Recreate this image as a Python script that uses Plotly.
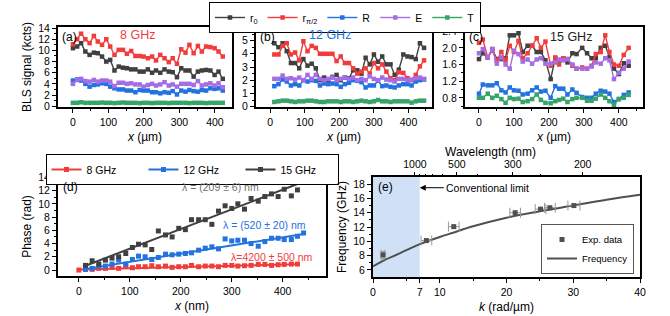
import math
import plotly.graph_objects as go

# ---------------- data: panel (a) 8 GHz ----------------
xa = [0, 12, 23, 35, 47, 59, 70, 82, 94, 105, 117, 129, 141, 152, 164, 176, 188, 199, 211, 223,
      234, 246, 258, 270, 281, 293, 305, 317, 328, 340, 352, 363, 375, 387, 399, 410, 422]
a_r0 = [10.4, 10.7, 11.3, 9.8, 9.2, 9.6, 9.5, 8.9, 8.0, 8.3, 6.4, 7.1, 6.9, 6.8, 6.6, 6.6, 6.2, 6.2, 6.6, 6.0,
        6.4, 6.0, 6.6, 6.2, 6.1, 5.2, 6.8, 6.4, 6.4, 5.3, 6.2, 6.4, 6.5, 6.4, 5.6, 6.2, 4.9]
a_rp = [11.1, 12.0, 13.0, 12.0, 11.3, 12.6, 11.6, 11.0, 12.0, 10.7, 9.2, 10.1, 10.1, 9.4, 9.9, 9.0, 9.0, 8.9, 8.6, 8.9,
        8.2, 9.2, 8.6, 7.9, 8.6, 7.6, 10.2, 9.6, 11.0, 9.5, 10.8, 9.8, 10.7, 10.6, 10.4, 9.8, 8.9]
a_R = [4.6, 4.8, 4.6, 4.0, 3.5, 3.8, 3.9, 4.1, 4.0, 3.5, 3.2, 3.0, 3.0, 2.8, 2.8, 2.5, 2.9, 2.8, 2.8, 2.5,
       2.5, 2.3, 2.5, 2.4, 2.7, 2.1, 2.8, 2.6, 2.9, 2.7, 2.6, 2.9, 2.8, 3.2, 3.1, 3.2, 2.8]
a_E = [4.0, 4.7, 4.9, 4.5, 4.4, 4.7, 4.4, 4.6, 4.6, 4.4, 3.6, 4.2, 4.2, 4.0, 4.1, 3.9, 3.9, 3.5, 3.8, 4.0,
       3.7, 3.9, 4.3, 3.7, 3.9, 3.5, 4.0, 4.0, 4.0, 3.8, 4.5, 3.7, 3.9, 4.1, 3.7, 4.1, 3.4]
a_T = [0.6, 0.6, 0.7, 0.6, 0.6, 0.6, 0.6, 0.65, 0.6, 0.6, 0.55, 0.6, 0.65, 0.6, 0.6, 0.6, 0.55, 0.6, 0.6, 0.55,
       0.6, 0.6, 0.6, 0.55, 0.6, 0.6, 0.6, 0.6, 0.55, 0.6, 0.6, 0.6, 0.55, 0.6, 0.6, 0.6, 0.6]

# ---------------- data: panel (b) 12 GHz ----------------
xb = [12, 24, 36, 48, 60, 72, 84, 96, 108, 120, 132, 144, 156, 168, 180, 192, 204, 216, 228, 240,
      252, 264, 276, 288, 300, 312, 324, 336, 348, 360, 372, 385, 397, 409, 421, 433, 445]
b_r0 = [4.8, 4.5, 4.8, 4.2, 3.3, 3.3, 2.9, 3.6, 3.1, 3.25, 2.9, 2.0, 2.2, 2.0, 2.25, 2.4, 2.0, 2.2, 2.15, 2.75,
        2.75, 2.5, 3.7, 3.2, 3.95, 3.4, 3.8, 3.2, 3.2, 2.4, 2.8, 3.95, 3.8, 3.75, 3.6, 4.8, 4.45]
b_rp = [3.95, 3.95, 4.6, 4.8, 3.95, 4.1, 3.5, 4.95, 4.2, 4.6, 4.45, 4.0, 4.0, 4.0, 4.0, 3.45, 3.8, 3.3, 3.3, 2.9,
        2.5, 2.65, 2.9, 2.5, 3.3, 2.9, 3.2, 2.65, 2.15, 2.0, 2.6, 2.55, 2.15, 2.0, 2.4, 3.05, 3.5]
b_R = [1.55, 1.7, 2.05, 1.9, 1.6, 1.7, 1.6, 2.0, 1.9, 2.0, 1.95, 1.6, 1.75, 1.7, 1.75, 1.7, 1.5, 1.7, 1.8, 2.0,
       1.95, 1.85, 1.45, 1.6, 1.6, 1.95, 1.55, 1.6, 1.5, 1.45, 1.6, 1.7, 1.7, 1.6, 1.9, 2.0, 2.05]
b_E = [2.1, 2.1, 2.35, 2.1, 2.15, 2.05, 2.2, 2.0, 2.4, 2.1, 2.4, 2.1, 2.0, 2.1, 2.2, 2.0, 2.1, 2.2, 2.1, 2.2,
       2.0, 2.1, 2.0, 2.3, 2.1, 2.0, 2.2, 2.05, 2.0, 1.9, 2.1, 2.1, 2.0, 2.05, 2.15, 2.2, 2.1]
b_T = [0.35, 0.4, 0.45, 0.45, 0.4, 0.35, 0.4, 0.4, 0.45, 0.45, 0.4, 0.35, 0.35, 0.4, 0.4, 0.4, 0.35, 0.4, 0.4, 0.35,
       0.4, 0.45, 0.4, 0.35, 0.4, 0.5, 0.4, 0.4, 0.35, 0.4, 0.4, 0.4, 0.4, 0.3, 0.4, 0.45, 0.45]

# ---------------- data: panel (c) 15 GHz ----------------
xc = [0, 11, 25, 38, 51, 64, 76, 88, 100, 113, 125, 139, 152, 165, 177, 190, 205, 218, 229, 241,
      253, 267, 279, 295, 309, 322, 334, 348, 361, 373, 386, 400, 414, 428]
c_r0 = [1.73, 1.87, 1.77, 1.97, 1.73, 1.73, 1.75, 2.3, 2.3, 2.35, 1.9, 2.05, 2.05, 1.9, 1.9, 1.7, 1.25, 1.75, 1.7, 1.75,
        1.65, 1.87, 1.85, 2.0, 1.87, 1.75, 1.75, 2.0, 2.05, 1.77, 1.5, 1.37, 1.63, 1.57]
c_rp = [2.12, 2.2, 1.77, 1.93, 1.7, 1.9, 1.7, 2.05, 1.9, 2.17, 1.75, 1.87, 2.05, 2.23, 2.0, 2.15, 1.57, 1.77, 1.6, 1.75,
        1.73, 1.57, 1.5, 1.53, 1.5, 1.57, 1.85, 1.9, 2.3, 1.9, 1.6, 1.57, 1.83, 2.0]
c_R = [0.9, 1.12, 1.1, 1.1, 1.15, 0.98, 0.93, 1.05, 0.98, 0.97, 0.88, 0.9, 0.98, 1.05, 0.95, 0.97, 0.8, 1.08, 1.02, 1.02,
       0.88, 1.0, 0.92, 0.82, 0.8, 0.8, 0.9, 0.97, 0.95, 0.9, 0.7, 0.77, 0.87, 0.93]
c_E = [1.87, 1.97, 1.77, 1.97, 1.62, 1.77, 1.6, 1.5, 1.93, 1.85, 1.67, 1.72, 1.62, 1.72, 1.75, 1.62, 1.62, 1.65, 1.72, 1.7,
       1.73, 1.6, 1.5, 1.5, 1.5, 1.55, 1.65, 1.62, 1.75, 1.7, 1.25, 1.4, 1.5, 1.67]
c_T = [0.8, 0.8, 0.9, 0.8, 0.85, 0.77, 0.68, 0.8, 0.77, 0.78, 0.7, 0.72, 0.77, 0.88, 0.75, 0.68, 0.67, 0.72, 0.75, 0.78,
       0.7, 0.77, 0.8, 0.8, 0.73, 0.73, 0.78, 0.88, 0.8, 0.72, 0.63, 0.77, 0.8, 0.87]

# ---------------- data: panel (d) phase ----------------
d_x15 = [13, 26, 39, 52, 65, 78, 92, 105, 117, 130, 143, 156, 170, 183, 196, 209, 221, 235, 248, 261,
         274, 287, 300, 312, 325, 338, 352, 365, 378, 391, 403, 417, 429]
d_y15 = [0.7, 1.4, 0.9, 1.5, 1.8, 2.0, 2.5, 3.4, 3.9, 3.8, 3.1, 5.9, 5.3, 5.0, 6.3, 6.1, 7.6, 7.6, 7.6, 6.9,
         8.9, 9.7, 9.3, 10.0, 9.2, 10.8, 10.4, 11.1, 11.5, 11.1, 12.2, 11.2, 12.1]
d_x12 = [13, 26, 39, 52, 65, 78, 92, 105, 117, 130, 143, 156, 170, 183, 196, 209, 221, 235, 248, 261,
         274, 287, 300, 312, 325, 338, 352, 365, 378, 391, 403, 417, 429, 441]
d_y12 = [0.1, 0.25, 0.6, 0.6, 0.9, 1.5, 0.9, 1.6, 2.1, 2.0, 1.6, 1.9, 2.4, 2.3, 2.4, 2.5, 2.6, 3.0, 3.3, 3.5,
         3.2, 4.7, 4.4, 4.5, 4.5, 4.0, 3.6, 4.3, 4.8, 4.8, 4.6, 4.6, 5.1, 5.6]
d_x8 = [0, 13, 26, 39, 52, 65, 78, 92, 105, 117, 130, 143, 156, 170, 183, 196, 209, 221, 235, 248, 261,
        274, 287, 300, 312, 325, 338, 352, 365, 378, 391, 403, 417, 429]
d_y8 = [0.0, 0.1, 0.1, 0.25, 0.25, 0.4, 0.25, 0.6, 0.35, 0.5, 0.5, 0.65, 0.5, 0.6, 0.4, 0.5, 0.5, 0.7, 0.5, 0.6,
        0.6, 0.5, 0.7, 0.7, 0.6, 0.65, 0.7, 0.85, 0.85, 0.7, 0.8, 0.85, 0.9, 0.9]
fit8_x, fit8_y = [0, 430], [0.1, 0.86]
fit12_x, fit12_y = [8, 441], [0.1, 5.45]
fit15_x, fit15_y = [8, 429], [0.5, 13.0]

# ---------------- data: panel (e) dispersion ----------------
e_k = [1.5, 8.0, 12.1, 21.3, 25.1, 26.5, 30.1]
e_f = [8.1, 10.1, 12.05, 14.0, 14.5, 14.7, 15.0]
e_kerr = [0.3, 0.8, 0.8, 0.8, 0.8, 0.8, 0.9]
e_ferr = [0.5, 0, 0, 0, 0, 0, 0]
curve_k = [0, 1, 2, 3, 5, 7, 10, 12, 15, 20, 25, 30, 35, 40]
curve_f = [6.5, 7.0, 7.5, 7.9, 8.75, 9.6, 10.6, 11.2, 12.1, 13.3, 14.2, 15.0, 15.8, 16.5]
conv_limit_k = 7
wl_major_nm = [1000, 500, 300, 200]
wl_minor_nm = [900, 800, 700, 600, 400, 250]
e_xticks = [0, 7, 10, 20, 30, 40]

# ---------------- styles ----------------
C_R0, C_RP, C_R, C_E, C_T = '#404040', '#f23c3c', '#2272e0', '#a46de6', '#36a468'
C_8, C_12, C_15 = '#f23c3c', '#2272e0', '#404040'
FONT = 'Liberation Sans, Arial, sans-serif'
W, H = 670, 316


def px_x(p):
    return p / W


def px_y(p):
    return 1 - p / H


fig = go.Figure()

series = [('r<sub>0</sub>', C_R0, 0), ('r<sub>π/2</sub>', C_RP, 1), ('R', C_R, 2), ('E', C_E, 3), ('T', C_T, 4)]
panels = [(xa, [a_r0, a_rp, a_R, a_E, a_T], 'x', 'y'),
          (xb, [b_r0, b_rp, b_R, b_E, b_T], 'x2', 'y2'),
          (xc, [c_r0, c_rp, c_R, c_E, c_T], 'x3', 'y3')]
for pi, (xs, ys, xr, yr) in enumerate(panels):
    for (name, col, idx) in series:
        fig.add_trace(go.Scatter(x=xs, y=ys[idx], mode='lines+markers', name=name,
                                 line=dict(color=col, width=1.4),
                                 marker=dict(symbol='square', size=4.5, color=col),
                                 xaxis=xr, yaxis=yr, showlegend=(pi == 0), legend='legend'))

# panel d
for fx, fy, dx, dy, col, nm in [(fit8_x, fit8_y, d_x8, d_y8, C_8, '8 GHz'),
                                (fit12_x, fit12_y, d_x12, d_y12, C_12, '12 GHz'),
                                (fit15_x, fit15_y, d_x15, d_y15, C_15, '15 GHz')]:
    fig.add_trace(go.Scatter(x=dx, y=dy, mode='markers', name=nm,
                             marker=dict(symbol='square', size=5, color=col),
                             xaxis='x4', yaxis='y4', showlegend=False))
    fig.add_trace(go.Scatter(x=fx, y=fy, mode='lines', name=nm,
                             line=dict(color=col, width=2), xaxis='x4', yaxis='y4', showlegend=False))
    # legend entry (line + marker)
    fig.add_trace(go.Scatter(x=[None], y=[None], mode='lines+markers', name=nm,
                             line=dict(color=col, width=2),
                             marker=dict(symbol='square', size=5, color=col),
                             xaxis='x4', yaxis='y4', legend='legend2'))

# panel e
fig.add_trace(go.Scatter(x=curve_k, y=curve_f, mode='lines', name='Frequency', line_shape='spline',
                         line=dict(color='#505050', width=2), xaxis='x5', yaxis='y5', legend='legend3'))
fig.add_trace(go.Scatter(x=e_k, y=e_f, mode='markers', name='Exp. data',
                         marker=dict(symbol='square', size=5, color='#505050'),
                         error_x=dict(type='data', array=e_kerr, color='#999999', thickness=1, width=5),
                         error_y=dict(type='data', array=e_ferr, color='#999999', thickness=1, width=2),
                         xaxis='x5', yaxis='y5', legend='legend3'))
# trace on the top (wavelength) axis so that it is drawn
fig.add_trace(go.Scatter(x=[0, 40], y=[None, None], mode='lines', showlegend=False,
                         xaxis='x6', yaxis='y5', hoverinfo='skip'))


def axis(**kw):
    d = dict(showline=True, linewidth=2, linecolor='black', mirror=True, ticks='outside',
             ticklen=4, tickwidth=1.2, tickcolor='black', showgrid=False, zeroline=False,
             automargin=False,
             tickfont=dict(size=10.5, color='black', family=FONT),
             title_font=dict(size=12, color='black', family=FONT))
    d.update(kw)
    return d


def minor(**kw):
    d = dict(ticks='outside', ticklen=2, tickwidth=1, tickcolor='black', showgrid=False)
    d.update(kw)
    return d


top_y = [px_y(107), px_y(27)]
bot_y = [px_y(276), px_y(177)]

lay = dict(
    width=W, height=H, margin=dict(l=0, r=0, t=0, b=0, autoexpand=False),
    paper_bgcolor='white', plot_bgcolor='white',
    font=dict(family=FONT, size=11, color='black'),
    xaxis=axis(domain=[px_x(58), px_x(232)], range=[-42, 448], tickvals=[0, 100, 200, 300, 400],
               minor=minor(dtick=50, tick0=0),
               anchor='y', title=dict(text='<i>x</i> (µm)', standoff=6)),
    yaxis=axis(domain=top_y, range=[-0.15, 14.2], dtick=2, tick0=0,
               minor=minor(dtick=1, tick0=0),
               anchor='x', title=dict(text='BLS signal (kcts)', standoff=4)),
    xaxis2=axis(domain=[px_x(256), px_x(432)], range=[-41, 468], tickvals=[0, 100, 200, 300, 400],
                minor=minor(dtick=50, tick0=0),
                anchor='y2', title=dict(text='<i>x</i> (µm)', standoff=6)),
    yaxis2=axis(domain=top_y, range=[-0.03, 6.03], dtick=1, tick0=0,
                minor=minor(dtick=0.5, tick0=0),
                anchor='x2'),
    xaxis3=axis(domain=[px_x(465), px_x(643)], range=[-40, 469], tickvals=[0, 100, 200, 300, 400],
                minor=minor(dtick=50, tick0=0),
                anchor='y3', title=dict(text='<i>x</i> (µm)', standoff=6)),
    yaxis3=axis(domain=top_y, range=[0.58, 2.5], tickvals=[0.8, 1.2, 1.6, 2.0, 2.4],
                ticktext=['0.8', '1.2', '1.6', '2.0', '2.4'],
                minor=minor(dtick=0.2, tick0=0),
                anchor='x3'),
    xaxis4=axis(domain=[px_x(58), px_x(326)], range=[-41, 485], tickvals=[0, 100, 200, 300, 400],
                minor=minor(dtick=50, tick0=0),
                anchor='y4', title=dict(text='<i>x</i> (nm)', standoff=6)),
    yaxis4=axis(domain=bot_y, range=[-0.9, 14.05], dtick=2, tick0=0,
                minor=minor(dtick=1, tick0=0),
                anchor='x4', title=dict(text='Phase (rad)', standoff=4)),
    xaxis5=axis(domain=[px_x(373), px_x(640)], range=[0, 40], tickvals=e_xticks,
                minor=minor(tickvals=[5, 15, 25, 35]),
                anchor='y5', title=dict(text='<i>k</i> (rad/µm)', standoff=6)),
    yaxis5=axis(domain=[px_y(277), px_y(177)], range=[5, 19], tickvals=[6, 8, 10, 12, 14, 16, 18],
                minor=minor(tickvals=[7, 9, 11, 13, 15, 17]),
                anchor='x5', title=dict(text='Frequency (GHz)', standoff=4)),
    xaxis6=axis(overlaying='x5', side='top', anchor='y5', range=[0, 40], mirror=False, showline=False,
                tickvals=[2 * math.pi / (w / 1000) for w in wl_major_nm],
                ticktext=[str(w) for w in wl_major_nm],
                minor=minor(tickvals=[2 * math.pi / (w / 1000) for w in wl_minor_nm])),
    legend=dict(orientation='h', x=px_x(345), xanchor='center', y=px_y(2), yanchor='top',
                bordercolor='black', borderwidth=1, bgcolor='white', font=dict(size=10.5),
                itemwidth=30, tracegroupgap=0),
    legend2=dict(orientation='h', x=px_x(192), xanchor='center', y=px_y(154), yanchor='top',
                 bordercolor='black', borderwidth=1, bgcolor='white', font=dict(size=10.5),
                 itemwidth=30, entrywidth=52),
    legend3=dict(orientation='v', x=px_x(634), xanchor='right', y=px_y(274), yanchor='bottom',
                 bordercolor='#555555', borderwidth=1, bgcolor='white', font=dict(size=9.5),
                 itemwidth=30, traceorder='reversed', tracegroupgap=0),
    shapes=[dict(type='rect', xref='x5', yref='y5', x0=0, x1=conv_limit_k, y0=5, y1=19,
                 fillcolor='#cfe0f7', line=dict(width=0), layer='below')],
)
fig.update_layout(**lay)

ann = []
for lbl, xr, yr in [('(a)', 'x', 'y'), ('(b)', 'x2', 'y2'), ('(c)', 'x3', 'y3'),
                    ('(d)', 'x4', 'y4'), ('(e)', 'x5', 'y5')]:
    ann.append(dict(text=lbl, xref=xr + ' domain', yref=yr + ' domain',
                    x=0.01, y=0.99, xanchor='left', yanchor='top', showarrow=False,
                    font=dict(size=12, color='black')))


def label(text, x, y, size, color):
    return dict(text=text, xref='paper', yref='paper', x=px_x(x), y=px_y(y),
                xanchor='center', yanchor='middle', showarrow=False,
                font=dict(size=size, color=color))


ann += [
    label('8 GHz', 137, 35, 12.5, C_8),
    label('12 GHz', 330, 35, 12.5, C_12),
    label('15 GHz', 571, 37, 12.5, '#222222'),
    label('λ = (209 ± 6) nm', 220, 187, 10.5, '#707070'),
    label('λ = (520 ± 20) nm', 264, 225, 10.5, C_12),
    label('λ=4200 ± 500 nm', 272, 257, 10.5, C_8),
    label('Wavelength (nm)', 490, 152, 12, 'black'),
    dict(text='Conventional limit', xref='x5', yref='y5', x=conv_limit_k, y=17.5, ax=24, ay=0,
         xanchor='left', showarrow=True, arrowhead=2, arrowsize=1.2, arrowwidth=1, arrowcolor='black',
         font=dict(size=10.5, color='black')),
]
fig.update_layout(annotations=ann)

# remove the browser's default 8px page margin so the figure sits at the page origin
fig.write_html('out.html', config={'displayModeBar': False},
               post_script="document.body.style.margin='0px';")
